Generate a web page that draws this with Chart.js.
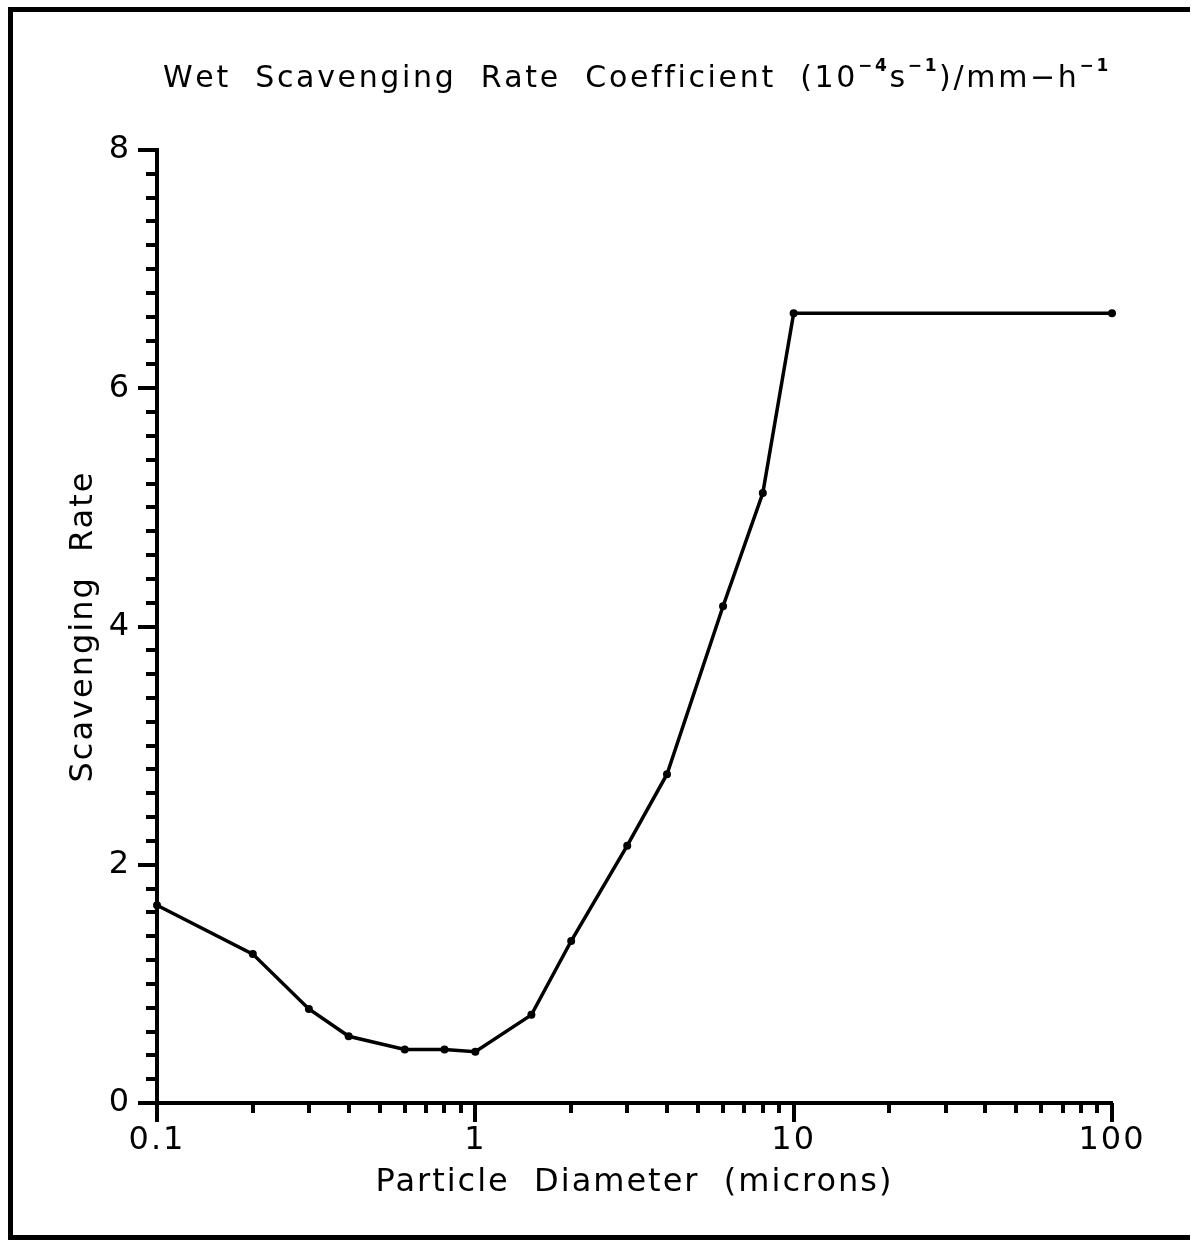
<!DOCTYPE html>
<html>
<head>
<meta charset="utf-8">
<script src="https://cdn.jsdelivr.net/npm/chart.js@4.4.1/dist/chart.umd.min.js"></script>
<style>
  html, body { margin: 0; padding: 0; background: #fff; overflow: hidden; }
  #wrap { width: 1194px; height: 1240px; position: relative; }
</style>
</head>
<body>
<div id="wrap"><canvas id="rateChart"></canvas></div>
<script>
const diameters = [0.1, 0.2, 0.3, 0.4, 0.6, 0.8, 1, 1.5, 2, 3, 4, 6, 8, 10, 100];
const scavengingRate = [1.66, 1.25, 0.79, 0.56, 0.45, 0.45, 0.43, 0.74, 1.36, 2.16, 2.76, 4.17, 5.12, 6.63, 6.63];
const xTickValues = [0.1, 1, 10, 100];
const xTickLabels = ["0.1", "1", "10", "100"];
const yTickValues = [0, 2, 4, 6, 8];
const yTickLabels = ["0", "2", "4", "6", "8"];
const titleParts = [
  { text: "Wet  Scavenging  Rate  Coefficient  (10", sup: false },
  { text: "\u22124", sup: true },
  { text: "s", sup: false },
  { text: "\u22121", sup: true },
  { text: ")/mm\u2212h", sup: false },
  { text: "\u22121", sup: true },
];

// minor tick positions (2..9 in each decade, every 0.2 on y)
const xMinorTicks = [];
[0.1, 1, 10].forEach(d => { for (let m = 2; m <= 9; m++) xMinorTicks.push(d * m); });
const yMinorTicks = [];
for (let i = 1; i < 40; i++) if (i % 10 !== 0) yMinorTicks.push(i * 0.2);

Chart.defaults.font.family = "'DejaVu Sans', sans-serif";
Chart.defaults.color = "#000";

const framePlugin = {
  id: "framePlugin",
  beforeDraw(chart) {
    chart.ctx.letterSpacing = "2px"; // wide plotter-style lettering
  },
  afterDraw(chart) {
    const { ctx, scales: { x, y } } = chart;
    ctx.save();
    ctx.letterSpacing = "0px";
    ctx.strokeStyle = "#000";

    // outer frame (left, top, bottom only)
    ctx.lineWidth = 5;
    ctx.beginPath();
    ctx.moveTo(10.5, 1240); ctx.lineTo(10.5, 9.5); ctx.lineTo(1190, 9.5);
    ctx.moveTo(8, 1237.5); ctx.lineTo(1190, 1237.5);
    ctx.stroke();

    // tick marks pointing outward
    ctx.lineWidth = 4;
    ctx.beginPath();
    xMinorTicks.forEach(v => {
      const px = Math.round(x.getPixelForValue(v));
      ctx.moveTo(px, y.bottom); ctx.lineTo(px, y.bottom + 10);
    });
    xTickValues.forEach(v => {
      const px = Math.round(x.getPixelForValue(v));
      ctx.moveTo(px, y.bottom); ctx.lineTo(px, y.bottom + 19);
    });
    yMinorTicks.forEach(v => {
      const py = Math.round(y.getPixelForValue(v));
      ctx.moveTo(x.left, py); ctx.lineTo(x.left - 11, py);
    });
    yTickValues.forEach(v => {
      const py = Math.round(y.getPixelForValue(v));
      ctx.moveTo(x.left, py); ctx.lineTo(x.left - 19, py);
    });
    ctx.stroke();

    // title with superscripts
    const mainFont = "30px 'DejaVu Sans'";
    const supFont = "bold 17px 'DejaVu Sans'";
    const startX = 163, endX = 1108, baseY = 87;
    let natural = 0, chars = 0;
    titleParts.forEach(p => {
      ctx.font = p.sup ? supFont : mainFont;
      natural += ctx.measureText(p.text).width;
      chars += p.text.length;
    });
    const spacing = (endX - startX - natural) / chars;
    ctx.fillStyle = "#000";
    ctx.textBaseline = "alphabetic";
    ctx.textAlign = "left";
    let cx = startX;
    titleParts.forEach(p => {
      ctx.font = p.sup ? supFont : mainFont;
      for (const ch of p.text) {
        ctx.fillText(ch, cx, p.sup ? baseY - 16 : baseY);
        cx += ctx.measureText(ch).width + spacing;
      }
    });
    ctx.restore();
  }
};

const ctx = document.getElementById("rateChart").getContext("2d");
new Chart(ctx, {
  type: "line",
  data: {
    datasets: [{
      data: diameters.map((d, i) => ({ x: d, y: scavengingRate[i] })),
      borderColor: "#000",
      backgroundColor: "#000",
      borderWidth: 3.5,
      pointRadius: 4,
      pointBorderWidth: 0,
      tension: 0,
      clip: false,
    }],
  },
  options: {
    responsive: true,
    maintainAspectRatio: false,
    animation: false,
    layout: { padding: { top: 150, left: 20, right: 82, bottom: 10 } },
    plugins: {
      legend: { display: false },
      tooltip: { enabled: false },
    },
    scales: {
      x: {
        type: "logarithmic",
        min: 0.1,
        max: 100,
        afterBuildTicks: scale => { scale.ticks = xTickValues.map(v => ({ value: v })); },
        afterFit: scale => { scale.height = 127; },
        ticks: {
          autoSkip: false,
          maxRotation: 0,
          padding: 18,
          font: { size: 32 },
          callback: (v, i) => xTickLabels[i],
        },
        grid: { display: false, drawTicks: false, tickLength: 0 },
        border: { display: true, color: "#000", width: 4 },
        title: {
          display: true,
          text: "Particle  Diameter  (microns)",
          font: { size: 32 },
          padding: { top: 0, bottom: 28 },
        },
      },
      y: {
        type: "linear",
        min: 0,
        max: 8,
        afterBuildTicks: scale => { scale.ticks = yTickValues.map(v => ({ value: v })); },
        afterFit: scale => { scale.width = 137; },
        ticks: {
          padding: 26,
          font: { size: 32 },
          callback: (v, i) => yTickLabels[i],
        },
        grid: { display: false, drawTicks: false, tickLength: 0 },
        border: { display: true, color: "#000", width: 4 },
        title: {
          display: true,
          text: "Scavenging  Rate",
          font: { size: 32 },
          padding: { top: 44, bottom: 0 },
        },
      },
    },
  },
  plugins: [framePlugin],
});
</script>
</body>
</html>
